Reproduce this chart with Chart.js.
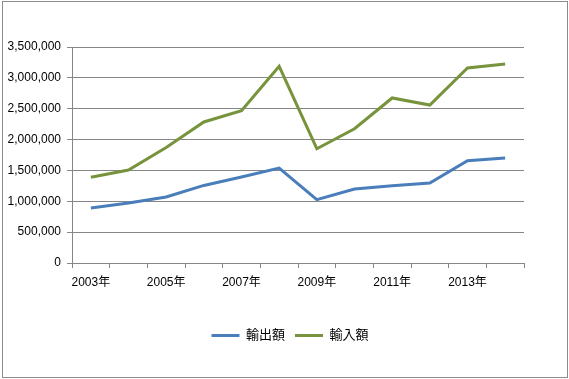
<!DOCTYPE html>
<html>
<head>
<meta charset="utf-8">
<script src="https://cdn.jsdelivr.net/npm/chart.js@4"></script>
<style>
html,body{margin:0;padding:0;background:#fff;}
#wrap{position:relative;width:569px;height:379px;}
#frame{position:absolute;left:2px;top:1px;width:564px;height:375px;border:1px solid #8c8c8c;pointer-events:none;}
canvas{position:absolute;left:0;top:0;}
</style>
</head>
<body>
<div id="wrap"><canvas id="c" width="569" height="379"></canvas><div id="frame"></div></div>
<script>
const categories = ['2003年','2004年','2005年','2006年','2007年','2008年','2009年','2010年','2011年','2012年','2013年','2014年'];
const exportValues = [890000, 972000, 1069000, 1257000, 1393000, 1539000, 1026000, 1199000, 1253000, 1296000, 1658000, 1701000];
const importValues = [1390000, 1507000, 1870000, 2285000, 2468000, 3186000, 1852000, 2176000, 2674000, 2560000, 3160000, 3225000];
const seriesNames = ['輸出額', '輸入額'];
const yTicks = [0, 500000, 1000000, 1500000, 2000000, 2500000, 3000000, 3500000];

const FONT = "'Liberation Sans', 'Noto Sans CJK JP', sans-serif";
const GRID = '#868686';

new Chart(document.getElementById('c'), {
  type: 'line',
  data: {
    labels: categories,
    datasets: [
      {label: seriesNames[0], data: exportValues, borderColor: '#4A7EBB', backgroundColor: '#4A7EBB', borderWidth: 3, pointRadius: 0, tension: 0, pointStyle: 'line'},
      {label: seriesNames[1], data: importValues, borderColor: '#77933C', backgroundColor: '#77933C', borderWidth: 3, pointRadius: 0, tension: 0, pointStyle: 'line'}
    ]
  },
  options: {
    responsive: false,
    animation: false,
    events: [],
    layout: {padding: {left: 4, right: -7, top: 47, bottom: 27}},
    plugins: {
      tooltip: {enabled: false},
      legend: {
        position: 'bottom',
        labels: {
          usePointStyle: true,
          pointStyleWidth: 28,
          padding: 10,
          color: '#000',
          font: {family: FONT, size: 13}
        }
      }
    },
    scales: {
      x: {
        offset: true,
        grid: {offset: true, drawOnChartArea: false, drawTicks: true, tickLength: 5, color: GRID},
        border: {color: GRID, width: 1},
        ticks: {
          autoSkip: false,
          maxRotation: 0,
          color: '#000',
          font: {family: FONT, size: 12},
          padding: 7,
          callback: function(v, i) { return i % 2 === 0 ? categories[i] : ''; }
        },
        afterFit: function(s) { s.height = 56; }
      },
      y: {
        min: 0,
        max: 3500000,
        afterBuildTicks: function(s) { s.ticks = yTicks.map(v => ({value: v})); },
        grid: {color: GRID, tickLength: 5, drawTicks: true},
        border: {color: GRID, width: 1},
        ticks: {
          color: '#000',
          font: {family: FONT, size: 12},
          padding: 6,
          callback: function(v) { return v.toLocaleString('en-US'); }
        },
        afterFit: function(s) { s.width = 68; }
      },
      yRight: {
        position: 'right',
        display: true,
        grid: {display: false},
        border: {display: false},
        ticks: {display: false},
        afterFit: function(s) { s.width = 52; }
      }
    }
  }
});
</script>
</body>
</html>
